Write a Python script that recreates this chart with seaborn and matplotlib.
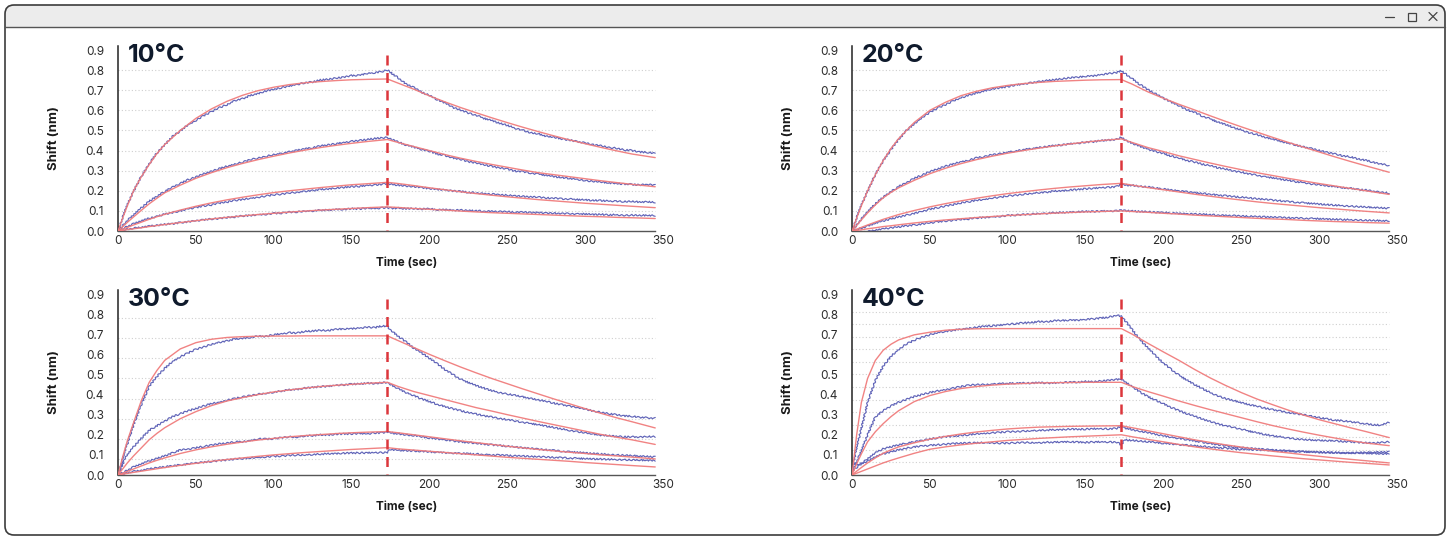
import matplotlib
matplotlib.use("Agg")
import matplotlib.pyplot as plt
from matplotlib.patches import FancyBboxPatch, Rectangle
import seaborn as sns

sns.set_theme(style="white")
plt.rcParams["font.family"] = ["Inter", "DejaVu Sans"]

# ---------------------------------------------------------------- data
# sampling times (s) of the fitted curves and of the measured traces
fit_time = [0, 3, 6, 10, 15, 20, 25, 30, 40, 50, 60, 70, 80, 90, 100, 110, 120,
            130, 140, 150, 160, 173, 180, 190, 200, 210, 220, 230, 240, 250,
            260, 270, 280, 290, 300, 310, 320, 330, 345]
trace_time = list(range(0, 171, 5)) + [173] + list(range(175, 346, 5))

panel_titles = ["10°C", "20°C", "30°C", "40°C"]
x_ticks = [0, 50, 100, 150, 200, 250, 300, 350]
y_ticks = [0.0, 0.1, 0.2, 0.3, 0.4, 0.5, 0.6, 0.7, 0.8, 0.9]
switch_time = 173

# --- 10°C fits
fit_10_1 = [0, 0.065, 0.125, 0.2, 0.27, 0.33, 0.385, 0.43, 0.5, 0.56, 0.607, 0.645, 0.675,
            0.698, 0.715, 0.728, 0.737, 0.743, 0.748, 0.752, 0.754, 0.756,
            0.735, 0.705, 0.672, 0.642, 0.614, 0.588, 0.563, 0.539, 0.516, 0.494, 0.473,
            0.453, 0.434, 0.416, 0.399, 0.383, 0.365]
fit_10_2 = [0, 0.022, 0.043, 0.07, 0.103, 0.135, 0.163, 0.19, 0.228, 0.262, 0.29, 0.315, 0.336,
            0.355, 0.372, 0.388, 0.402, 0.415, 0.426, 0.436, 0.445, 0.455,
            0.44, 0.42, 0.4, 0.38, 0.362, 0.346, 0.331, 0.317, 0.303, 0.29, 0.28,
            0.27, 0.26, 0.25, 0.241, 0.232, 0.22]
fit_10_3 = [0, 0.009, 0.018, 0.03, 0.044, 0.058, 0.071, 0.083, 0.104, 0.123, 0.14, 0.155, 0.168,
            0.18, 0.191, 0.2, 0.208, 0.216, 0.223, 0.23, 0.235, 0.242,
            0.236, 0.226, 0.215, 0.205, 0.195, 0.186, 0.178, 0.17, 0.163, 0.156, 0.15,
            0.144, 0.138, 0.133, 0.128, 0.123, 0.116]
fit_10_4 = [0, 0.003, 0.007, 0.011, 0.016, 0.022, 0.027, 0.032, 0.042, 0.051, 0.06, 0.068, 0.075,
            0.082, 0.088, 0.094, 0.099, 0.104, 0.108, 0.112, 0.116, 0.12,
            0.117, 0.112, 0.108, 0.104, 0.099, 0.095, 0.091, 0.088, 0.085, 0.082, 0.079,
            0.076, 0.073, 0.071, 0.068, 0.066, 0.062]

# --- 20°C fits
fit_20_1 = [0, 0.065, 0.125, 0.2, 0.28, 0.35, 0.41, 0.46, 0.54, 0.6, 0.64, 0.673, 0.695,
            0.712, 0.724, 0.733, 0.739, 0.744, 0.747, 0.75, 0.752, 0.753,
            0.73, 0.692, 0.66, 0.63, 0.602, 0.573, 0.545, 0.518, 0.492, 0.466, 0.441,
            0.417, 0.393, 0.369, 0.346, 0.324, 0.292]
fit_20_2 = [0, 0.028, 0.055, 0.09, 0.13, 0.165, 0.192, 0.215, 0.252, 0.285, 0.312, 0.335, 0.355,
            0.372, 0.387, 0.4, 0.412, 0.423, 0.433, 0.442, 0.45, 0.458,
            0.44, 0.415, 0.395, 0.374, 0.356, 0.338, 0.321, 0.305, 0.29, 0.276, 0.262,
            0.249, 0.236, 0.224, 0.212, 0.2, 0.182]
fit_20_3 = [0, 0.009, 0.018, 0.03, 0.044, 0.058, 0.07, 0.082, 0.102, 0.12, 0.136, 0.15, 0.163,
            0.175, 0.186, 0.195, 0.204, 0.212, 0.219, 0.225, 0.231, 0.237,
            0.228, 0.216, 0.205, 0.194, 0.183, 0.173, 0.163, 0.154, 0.145, 0.137, 0.13,
            0.123, 0.116, 0.11, 0.104, 0.098, 0.09]
fit_20_4 = [0, 0.003, 0.006, 0.011, 0.016, 0.022, 0.026, 0.031, 0.04, 0.048, 0.055, 0.061, 0.067,
            0.072, 0.077, 0.081, 0.085, 0.089, 0.092, 0.095, 0.097, 0.1,
            0.097, 0.093, 0.088, 0.084, 0.079, 0.075, 0.071, 0.067, 0.063, 0.06, 0.057,
            0.053, 0.05, 0.047, 0.045, 0.042, 0.039]

# --- 30°C fits
fit_30_1 = [0, 0.09, 0.17, 0.26, 0.37, 0.46, 0.52, 0.57, 0.627, 0.658, 0.675, 0.684, 0.688,
            0.69, 0.691, 0.691, 0.692, 0.692, 0.692, 0.692, 0.692, 0.692,
            0.668, 0.634, 0.6, 0.568, 0.537, 0.508, 0.48, 0.454, 0.428, 0.403, 0.378,
            0.354, 0.33, 0.307, 0.285, 0.265, 0.234]
fit_30_2 = [0, 0.03, 0.06, 0.095, 0.135, 0.175, 0.207, 0.235, 0.28, 0.315, 0.345, 0.368, 0.385,
            0.4, 0.413, 0.423, 0.432, 0.44, 0.446, 0.451, 0.456, 0.461,
            0.44, 0.415, 0.395, 0.375, 0.355, 0.335, 0.318, 0.3, 0.283, 0.266, 0.25,
            0.234, 0.218, 0.202, 0.188, 0.175, 0.152]
fit_30_3 = [0, 0.009, 0.018, 0.03, 0.045, 0.06, 0.073, 0.085, 0.107, 0.125, 0.14, 0.153, 0.164,
            0.174, 0.182, 0.19, 0.196, 0.201, 0.206, 0.21, 0.213, 0.216,
            0.21, 0.2, 0.19, 0.18, 0.17, 0.161, 0.152, 0.143, 0.135, 0.127, 0.12,
            0.113, 0.107, 0.1, 0.095, 0.089, 0.08]
fit_30_4 = [0, 0.004, 0.008, 0.013, 0.019, 0.025, 0.031, 0.037, 0.048, 0.058, 0.068, 0.077, 0.085,
            0.093, 0.1, 0.106, 0.112, 0.117, 0.122, 0.127, 0.131, 0.136,
            0.13, 0.124, 0.118, 0.112, 0.106, 0.1, 0.094, 0.088, 0.083, 0.078, 0.073,
            0.068, 0.062, 0.057, 0.052, 0.047, 0.04]

# --- 40°C fits
fit_40_1 = [0, 0.2, 0.36, 0.48, 0.57, 0.62, 0.65, 0.672, 0.697, 0.71, 0.72, 0.725, 0.727,
            0.728, 0.728, 0.728, 0.728, 0.728, 0.728, 0.728, 0.728, 0.728,
            0.7, 0.655, 0.612, 0.57, 0.525, 0.483, 0.445, 0.41, 0.378, 0.35, 0.323,
            0.298, 0.275, 0.255, 0.235, 0.216, 0.186]
fit_40_2 = [0, 0.055, 0.105, 0.165, 0.215, 0.255, 0.29, 0.32, 0.365, 0.395, 0.415, 0.43, 0.44,
            0.447, 0.452, 0.455, 0.458, 0.459, 0.46, 0.461, 0.461, 0.461,
            0.44, 0.415, 0.392, 0.368, 0.346, 0.325, 0.305, 0.285, 0.265, 0.246, 0.229,
            0.213, 0.198, 0.184, 0.171, 0.159, 0.146]
fit_40_3 = [0, 0.019, 0.037, 0.06, 0.085, 0.108, 0.125, 0.14, 0.16, 0.178, 0.192, 0.204, 0.214,
            0.222, 0.229, 0.234, 0.238, 0.24, 0.242, 0.243, 0.244, 0.245,
            0.235, 0.22, 0.205, 0.19, 0.175, 0.162, 0.15, 0.139, 0.128, 0.118, 0.11,
            0.101, 0.093, 0.085, 0.078, 0.071, 0.06]
fit_40_4 = [0, 0.009, 0.018, 0.03, 0.045, 0.06, 0.073, 0.085, 0.108, 0.128, 0.14, 0.15, 0.158,
            0.165, 0.172, 0.177, 0.182, 0.186, 0.19, 0.193, 0.196, 0.2,
            0.19, 0.177, 0.165, 0.152, 0.14, 0.13, 0.12, 0.111, 0.103, 0.095, 0.088,
            0.081, 0.075, 0.069, 0.063, 0.058, 0.05]

# --- 10°C measured traces
trace_10_1 = [0.0, 0.112, 0.198, 0.272, 0.333, 0.388, 0.428, 0.47, 0.497, 0.529, 0.55, 0.574,
              0.593, 0.614, 0.628, 0.649, 0.658, 0.674, 0.684, 0.696, 0.704, 0.713, 0.721,
              0.729, 0.737, 0.741, 0.751, 0.754, 0.761, 0.764, 0.773, 0.775, 0.784, 0.787,
              0.794, 0.8,
              0.789, 0.761, 0.732, 0.713, 0.69, 0.674, 0.653, 0.637, 0.614, 0.602, 0.586,
              0.576, 0.56, 0.55, 0.536, 0.526, 0.511, 0.502, 0.488, 0.483, 0.471, 0.467,
              0.457, 0.453, 0.444, 0.438, 0.429, 0.424, 0.415, 0.412, 0.403, 0.401, 0.393,
              0.391, 0.386]
trace_10_2 = [0.0, 0.045, 0.08, 0.115, 0.148, 0.172, 0.197, 0.218, 0.236, 0.255, 0.268, 0.284,
              0.296, 0.31, 0.322, 0.333, 0.342, 0.355, 0.362, 0.371, 0.38, 0.386, 0.394,
              0.401, 0.41, 0.414, 0.423, 0.428, 0.434, 0.44, 0.446, 0.45, 0.455, 0.46,
              0.463, 0.466,
              0.457, 0.442, 0.428, 0.418, 0.405, 0.397, 0.383, 0.376, 0.364, 0.357, 0.344,
              0.34, 0.328, 0.322, 0.313, 0.308, 0.298, 0.295, 0.288, 0.283, 0.277, 0.271,
              0.266, 0.262, 0.257, 0.251, 0.247, 0.244, 0.239, 0.237, 0.233, 0.232, 0.229,
              0.231, 0.228]
trace_10_3 = [0.0, 0.02, 0.036, 0.05, 0.063, 0.072, 0.084, 0.092, 0.1, 0.11, 0.116, 0.125,
              0.13, 0.139, 0.144, 0.152, 0.157, 0.163, 0.168, 0.174, 0.18, 0.183, 0.19,
              0.192, 0.198, 0.201, 0.207, 0.209, 0.214, 0.216, 0.221, 0.222, 0.227, 0.229,
              0.233, 0.236,
              0.233, 0.228, 0.224, 0.221, 0.215, 0.212, 0.207, 0.205, 0.199, 0.197, 0.192,
              0.19, 0.186, 0.184, 0.179, 0.178, 0.174, 0.172, 0.169, 0.168, 0.164, 0.163,
              0.16, 0.159, 0.156, 0.155, 0.152, 0.152, 0.149, 0.149, 0.146, 0.147, 0.144,
              0.145, 0.143]
trace_10_4 = [0.0, 0.008, 0.014, 0.018, 0.024, 0.028, 0.033, 0.036, 0.042, 0.046, 0.051, 0.055,
              0.06, 0.062, 0.067, 0.07, 0.075, 0.077, 0.082, 0.083, 0.088, 0.089, 0.094,
              0.095, 0.099, 0.1, 0.104, 0.104, 0.108, 0.107, 0.111, 0.11, 0.114, 0.112,
              0.115, 0.116,
              0.113, 0.114, 0.111, 0.112, 0.109, 0.11, 0.106, 0.107, 0.104, 0.104, 0.101,
              0.101, 0.098, 0.099, 0.096, 0.096, 0.093, 0.094, 0.091, 0.091, 0.088, 0.089,
              0.086, 0.087, 0.084, 0.085, 0.082, 0.083, 0.08, 0.081, 0.078, 0.079, 0.077,
              0.078, 0.076]

# --- 20°C measured traces
trace_20_1 = [0.0, 0.11, 0.198, 0.282, 0.348, 0.405, 0.455, 0.5, 0.533, 0.565, 0.59, 0.612,
              0.628, 0.648, 0.662, 0.676, 0.686, 0.697, 0.706, 0.712, 0.718, 0.726, 0.731,
              0.737, 0.742, 0.748, 0.752, 0.757, 0.762, 0.764, 0.77, 0.772, 0.778, 0.783,
              0.788, 0.797,
              0.784, 0.758, 0.728, 0.703, 0.682, 0.66, 0.641, 0.622, 0.603, 0.59, 0.571,
              0.558, 0.541, 0.53, 0.514, 0.503, 0.489, 0.48, 0.466, 0.458, 0.447, 0.437,
              0.428, 0.418, 0.41, 0.4, 0.391, 0.384, 0.374, 0.369, 0.358, 0.352, 0.341,
              0.333, 0.326]
trace_20_2 = [0.0, 0.05, 0.095, 0.135, 0.168, 0.195, 0.222, 0.24, 0.262, 0.278, 0.295, 0.308,
              0.322, 0.333, 0.345, 0.352, 0.364, 0.369, 0.38, 0.384, 0.393, 0.397, 0.405,
              0.409, 0.416, 0.419, 0.425, 0.428, 0.434, 0.436, 0.442, 0.444, 0.45, 0.452,
              0.456, 0.466,
              0.452, 0.437, 0.421, 0.408, 0.395, 0.386, 0.372, 0.364, 0.351, 0.343, 0.332,
              0.325, 0.314, 0.308, 0.297, 0.293, 0.283, 0.278, 0.269, 0.265, 0.257, 0.253,
              0.245, 0.242, 0.234, 0.231, 0.224, 0.222, 0.215, 0.213, 0.206, 0.204, 0.197,
              0.192, 0.188]
trace_20_3 = [0.0, 0.012, 0.024, 0.038, 0.05, 0.06, 0.07, 0.079, 0.088, 0.097, 0.108, 0.116,
              0.124, 0.131, 0.14, 0.145, 0.153, 0.157, 0.165, 0.167, 0.175, 0.177, 0.183,
              0.186, 0.191, 0.193, 0.199, 0.2, 0.204, 0.206, 0.21, 0.212, 0.216, 0.217,
              0.221, 0.234,
              0.229, 0.227, 0.222, 0.219, 0.213, 0.21, 0.204, 0.2, 0.195, 0.19, 0.187,
              0.183, 0.179, 0.175, 0.171, 0.168, 0.164, 0.16, 0.157, 0.153, 0.15, 0.146,
              0.143, 0.14, 0.137, 0.134, 0.131, 0.129, 0.126, 0.124, 0.121, 0.119, 0.117,
              0.115, 0.113]
trace_20_4 = [0.0, -0.004, -0.003, 0.004, 0.01, 0.016, 0.02, 0.026, 0.03, 0.035, 0.04, 0.045,
              0.05, 0.053, 0.058, 0.06, 0.065, 0.067, 0.071, 0.073, 0.077, 0.079, 0.082,
              0.084, 0.087, 0.088, 0.091, 0.092, 0.094, 0.095, 0.097, 0.097, 0.099, 0.099,
              0.1, 0.104,
              0.101, 0.099, 0.097, 0.096, 0.093, 0.091, 0.09, 0.088, 0.086, 0.084, 0.083,
              0.081, 0.079, 0.078, 0.076, 0.074, 0.073, 0.071, 0.07, 0.068, 0.067, 0.066,
              0.064, 0.063, 0.062, 0.061, 0.059, 0.058, 0.057, 0.056, 0.055, 0.053, 0.052,
              0.051, 0.05]

# --- 30°C measured traces
trace_30_1 = [0.0, 0.13, 0.25, 0.35, 0.44, 0.49, 0.53, 0.565, 0.588, 0.607, 0.625, 0.637,
              0.65, 0.66, 0.667, 0.676, 0.68, 0.684, 0.69, 0.689, 0.698, 0.702, 0.708,
              0.706, 0.714, 0.716, 0.72, 0.718, 0.724, 0.727, 0.728, 0.731, 0.735, 0.733,
              0.742, 0.74,
              0.722, 0.69, 0.662, 0.63, 0.607, 0.58, 0.553, 0.524, 0.5, 0.476, 0.46,
              0.445, 0.432, 0.42, 0.41, 0.403, 0.396, 0.388, 0.381, 0.373, 0.366, 0.357,
              0.35, 0.342, 0.336, 0.328, 0.318, 0.312, 0.305, 0.3, 0.294, 0.292, 0.287,
              0.285, 0.283]
trace_30_2 = [0.0, 0.09, 0.14, 0.182, 0.222, 0.245, 0.268, 0.29, 0.305, 0.319, 0.33, 0.343,
              0.355, 0.362, 0.372, 0.38, 0.388, 0.395, 0.402, 0.406, 0.412, 0.418, 0.424,
              0.426, 0.432, 0.435, 0.44, 0.441, 0.447, 0.448, 0.452, 0.453, 0.457, 0.455,
              0.46, 0.458,
              0.45, 0.43, 0.41, 0.395, 0.378, 0.366, 0.351, 0.341, 0.329, 0.32, 0.31,
              0.303, 0.294, 0.288, 0.28, 0.276, 0.268, 0.262, 0.256, 0.25, 0.243, 0.236,
              0.229, 0.222, 0.216, 0.21, 0.204, 0.198, 0.196, 0.192, 0.19, 0.19, 0.188,
              0.191, 0.19]
trace_30_3 = [0.0, 0.02, 0.04, 0.055, 0.07, 0.082, 0.095, 0.11, 0.125, 0.128, 0.135, 0.142,
              0.148, 0.155, 0.158, 0.165, 0.165, 0.172, 0.18, 0.179, 0.18, 0.186, 0.19,
              0.188, 0.195, 0.196, 0.2, 0.199, 0.203, 0.204, 0.205, 0.207, 0.205, 0.209,
              0.21, 0.215,
              0.21, 0.205, 0.2, 0.196, 0.19, 0.185, 0.18, 0.175, 0.17, 0.165, 0.162,
              0.158, 0.154, 0.15, 0.147, 0.143, 0.139, 0.135, 0.132, 0.128, 0.125, 0.122,
              0.118, 0.115, 0.113, 0.11, 0.107, 0.105, 0.102, 0.1, 0.098, 0.096, 0.094,
              0.092, 0.09]
trace_30_4 = [0.0, 0.01, 0.018, 0.022, 0.03, 0.036, 0.04, 0.046, 0.05, 0.055, 0.06, 0.063,
              0.068, 0.071, 0.075, 0.079, 0.082, 0.085, 0.088, 0.09, 0.093, 0.094, 0.098,
              0.099, 0.1, 0.102, 0.104, 0.106, 0.107, 0.108, 0.109, 0.11, 0.11, 0.112,
              0.111, 0.113,
              0.127, 0.124, 0.121, 0.12, 0.117, 0.115, 0.114, 0.111, 0.109, 0.107, 0.106,
              0.104, 0.102, 0.1, 0.099, 0.097, 0.095, 0.094, 0.092, 0.09, 0.089, 0.087,
              0.086, 0.084, 0.083, 0.081, 0.08, 0.079, 0.078, 0.077, 0.076, 0.075, 0.074,
              0.073, 0.072]

# --- 40°C measured traces
trace_40_1 = [0.03, 0.2, 0.36, 0.47, 0.54, 0.59, 0.625, 0.652, 0.67, 0.685, 0.698, 0.708,
              0.714, 0.72, 0.725, 0.73, 0.734, 0.74, 0.742, 0.745, 0.75, 0.752, 0.757,
              0.758, 0.763, 0.762, 0.767, 0.768, 0.771, 0.77, 0.774, 0.776, 0.781, 0.785,
              0.795, 0.79,
              0.772, 0.722, 0.672, 0.632, 0.592, 0.556, 0.525, 0.496, 0.472, 0.45, 0.43,
              0.41, 0.394, 0.38, 0.37, 0.36, 0.35, 0.342, 0.333, 0.325, 0.318, 0.31,
              0.305, 0.3, 0.292, 0.285, 0.279, 0.272, 0.27, 0.265, 0.26, 0.255, 0.25,
              0.248, 0.262]
trace_40_2 = [0.02, 0.1, 0.2, 0.29, 0.32, 0.343, 0.362, 0.376, 0.39, 0.4, 0.41, 0.418,
              0.425, 0.432, 0.44, 0.446, 0.45, 0.449, 0.452, 0.455, 0.455, 0.457, 0.458,
              0.456, 0.46, 0.457, 0.458, 0.46, 0.462, 0.461, 0.465, 0.463, 0.468, 0.47,
              0.475, 0.478,
              0.465, 0.44, 0.412, 0.39, 0.372, 0.355, 0.336, 0.32, 0.305, 0.292, 0.278,
              0.265, 0.254, 0.245, 0.236, 0.228, 0.218, 0.21, 0.202, 0.195, 0.19, 0.185,
              0.18, 0.176, 0.174, 0.172, 0.171, 0.17, 0.167, 0.165, 0.162, 0.16, 0.158,
              0.162, 0.165]
trace_40_3 = [0.02, 0.05, 0.08, 0.11, 0.13, 0.14, 0.15, 0.158, 0.165, 0.172, 0.178, 0.185,
              0.19, 0.193, 0.196, 0.2, 0.205, 0.207, 0.21, 0.212, 0.215, 0.216, 0.218,
              0.22, 0.222, 0.223, 0.225, 0.226, 0.228, 0.227, 0.228, 0.23, 0.23, 0.229,
              0.232, 0.245,
              0.235, 0.225, 0.218, 0.21, 0.203, 0.195, 0.188, 0.182, 0.176, 0.17, 0.163,
              0.157, 0.151, 0.145, 0.14, 0.136, 0.133, 0.13, 0.127, 0.124, 0.122, 0.12,
              0.118, 0.116, 0.114, 0.113, 0.112, 0.111, 0.11, 0.11, 0.109, 0.108, 0.107,
              0.106, 0.105]
trace_40_4 = [0.055, 0.055, 0.068, 0.09, 0.105, 0.115, 0.125, 0.133, 0.14, 0.144, 0.147, 0.15,
              0.153, 0.156, 0.158, 0.159, 0.16, 0.161, 0.16, 0.158, 0.158, 0.16, 0.162,
              0.161, 0.16, 0.163, 0.163, 0.165, 0.165, 0.163, 0.162, 0.164, 0.165, 0.164,
              0.163, 0.15,
              0.175, 0.172, 0.169, 0.165, 0.162, 0.158, 0.155, 0.151, 0.148, 0.145, 0.142,
              0.139, 0.136, 0.133, 0.13, 0.128, 0.126, 0.125, 0.123, 0.121, 0.12, 0.118,
              0.117, 0.116, 0.115, 0.114, 0.113, 0.112, 0.111, 0.11, 0.111, 0.112, 0.113,
              0.114, 0.115]

# ---------------------------------------------------------------- style
BLUE = "#6064b8"
RED = "#f07c7c"
DASH = "#dc363c"
GRID = "#cfcfcf"
TEXT = "#2b2b2b"
TITLE = "#0f1a2c"

# faint dotted reference lines differ a little between the four exported panels
grid_levels = [
    [0.1, 0.2, 0.3, 0.4, 0.5, 0.6, 0.7, 0.8],
    [0.1, 0.2, 0.3, 0.4, 0.5, 0.6, 0.7, 0.8],
    [0.08, 0.18, 0.28, 0.38, 0.48, 0.58, 0.68, 0.78],
    [k / 16 for k in range(1, 14)],
]

panels = [
    (panel_titles[0], [trace_10_1, trace_10_2, trace_10_3, trace_10_4],
     [fit_10_1, fit_10_2, fit_10_3, fit_10_4]),
    (panel_titles[1], [trace_20_1, trace_20_2, trace_20_3, trace_20_4],
     [fit_20_1, fit_20_2, fit_20_3, fit_20_4]),
    (panel_titles[2], [trace_30_1, trace_30_2, trace_30_3, trace_30_4],
     [fit_30_1, fit_30_2, fit_30_3, fit_30_4]),
    (panel_titles[3], [trace_40_1, trace_40_2, trace_40_3, trace_40_4],
     [fit_40_1, fit_40_2, fit_40_3, fit_40_4]),
]

W, H = 1450, 538
fig = plt.figure(figsize=(W / 100, H / 100), dpi=100)

# window frame drawn in pixel coordinates
bg = fig.add_axes([0, 0, 1, 1], zorder=-5)
bg.set_xlim(0, W)
bg.set_ylim(H, 0)
bg.axis("off")
bg.add_patch(FancyBboxPatch((5, 5), 1440, 40, boxstyle="round,pad=0,rounding_size=9",
                            facecolor="#ececec", edgecolor="none"))
bg.add_patch(Rectangle((5, 27), 1440, 508, facecolor="white", edgecolor="none"))
bg.plot([5, 1445], [27, 27], color="#555555", lw=1.0)
bg.add_patch(FancyBboxPatch((5, 5), 1440, 530, boxstyle="round,pad=0,rounding_size=9",
                            facecolor="none", edgecolor="#3c3c3c", lw=1.2))
bg.plot([1385, 1394], [17, 17], color="#444444", lw=0.9)
bg.add_patch(Rectangle((1408, 12.5), 8, 8, facecolor="none", edgecolor="#444444", lw=0.9))
bg.plot([1429, 1437], [12.5, 20.5], color="#444444", lw=0.9)
bg.plot([1429, 1437], [20.5, 12.5], color="#444444", lw=0.9)

# plot areas (pixels): left edge at t=0, bottom at 0.0 nm
ax_w, ax_h = 545, 185
origins = [(118, 231), (852, 231), (118, 475), (852, 475)]

for (x0, y0), (title, traces, fits), levels in zip(origins, panels, grid_levels):
    ax = fig.add_axes([x0 / W, (H - y0) / H, ax_w / W, ax_h / H])
    ax.patch.set_visible(False)
    ax.set_xlim(0, 350)
    ax.set_ylim(0, 0.92)

    ax.hlines(levels, 0, 345, colors=GRID, linestyles=(0, (1, 2)), lw=0.8, zorder=0)

    # measured traces: thin line with a slight hand-drawn jitter to look like raw signal
    for tr in traces:
        assert len(tr) == len(trace_time)
        sns.lineplot(x=trace_time, y=tr, ax=ax, color=BLUE, linewidth=0.85,
                     estimator=None, sort=False, zorder=2)
        ax.lines[-1].set_sketch_params(0.8, 4.0, 2.0)
    for ft in fits:
        assert len(ft) == len(fit_time)
        sns.lineplot(x=fit_time, y=ft, ax=ax, color=RED, linewidth=1.0, alpha=0.95,
                     estimator=None, sort=False, zorder=3)

    ax.plot([switch_time, switch_time], [0.875, 0], color=DASH,
            linestyle=(0, (4, 3)), lw=1.8, zorder=4)

    ax.set_xticks(x_ticks)
    ax.set_yticks(y_ticks)
    ax.set_yticklabels([f"{v:.1f}" for v in y_ticks])
    ax.tick_params(axis="both", length=0, labelsize=8.5, colors=TEXT)
    ax.tick_params(axis="y", pad=10)
    ax.tick_params(axis="x", pad=3)

    for side in ("top", "right"):
        ax.spines[side].set_visible(False)
    ax.spines["left"].set_color("#222222")
    ax.spines["left"].set_linewidth(1.1)
    ax.spines["bottom"].set_color("#555555")
    ax.spines["bottom"].set_linewidth(1.0)
    ax.spines["bottom"].set_bounds(0, 345)

    ax.set_ylabel("Shift (nm)", fontsize=9.5, fontweight="bold", color="#1a1a1a")
    ax.yaxis.set_label_coords(-0.106, 0.5)
    ax.set_xlabel("")
    ax.text(0.53, -0.175, "Time (sec)", transform=ax.transAxes, ha="center", va="center",
            fontsize=8.5, fontweight="bold", color="#1a1a1a")

    ax.text(0.018, 0.914, title, transform=ax.transAxes, ha="left", va="baseline",
            fontsize=18, fontweight="bold", color=TITLE)

fig.savefig("out.png", dpi=100)
